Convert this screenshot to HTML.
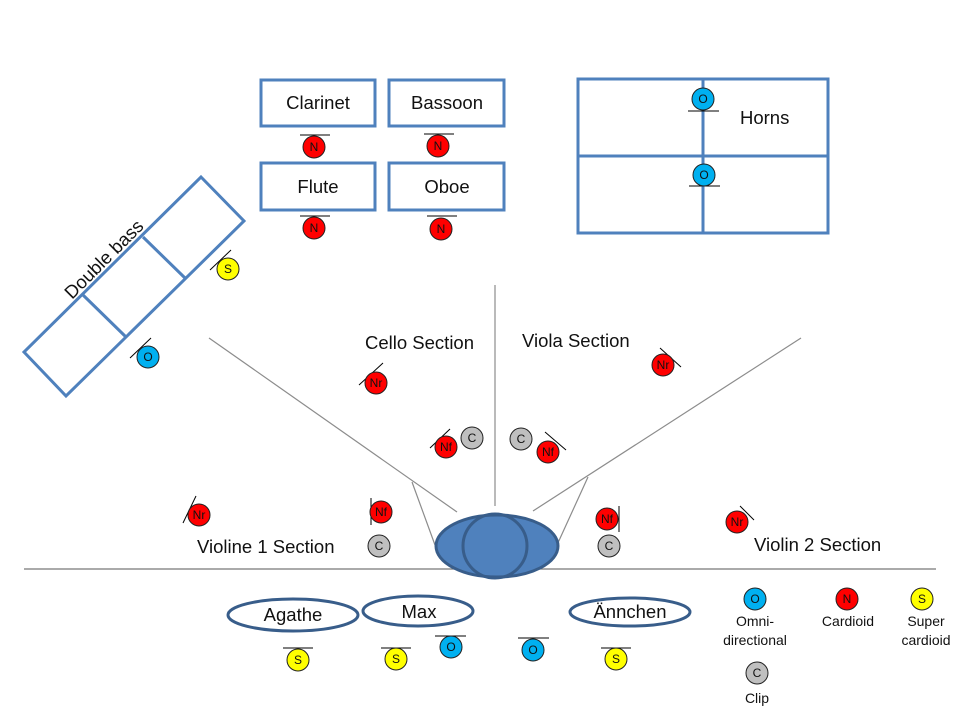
<!DOCTYPE html>
<html><head><meta charset="utf-8"><style>
body{margin:0;background:#fff}
svg{display:block}
text{font-family:"Liberation Sans",sans-serif;fill:#111}
.b{fill:none;stroke:#4f81bd;stroke-width:3}
.m{stroke:#222;stroke-width:1}
.l{stroke:#000;stroke-width:1}
.g{stroke:#8c8c8c;stroke-width:1.2}
.t{font-size:18.5px}
.mt{font-size:12px;text-anchor:middle}
</style></head><body>
<svg width="960" height="720" viewBox="0 0 960 720">
<rect class="b" x="261" y="80" width="114" height="46"/>
<rect class="b" x="389" y="80" width="115" height="46"/>
<rect class="b" x="261" y="163" width="114" height="47"/>
<rect class="b" x="389" y="163" width="115" height="47"/>
<text class="t" x="318" y="109" text-anchor="middle">Clarinet</text>
<text class="t" x="447" y="109" text-anchor="middle">Bassoon</text>
<text class="t" x="318" y="193" text-anchor="middle">Flute</text>
<text class="t" x="447" y="193" text-anchor="middle">Oboe</text>
<rect class="b" x="578" y="79" width="250" height="154"/>
<line class="b" x1="578" y1="156" x2="828" y2="156"/>
<line class="b" x1="703" y1="79" x2="703" y2="233"/>
<text class="t" x="740" y="124">Horns</text>
<polygon class="b" points="201,177 244,221 66,396 24,352"/>
<line class="b" x1="83" y1="295" x2="126" y2="337"/>
<line class="b" x1="143" y1="237" x2="185" y2="278"/>
<text class="t" x="0" y="0" transform="translate(72,300) rotate(-45)">Double bass</text>
<line class="g" x1="209" y1="338" x2="457" y2="512"/>
<line class="g" x1="495" y1="285" x2="495" y2="506"/>
<line class="g" x1="801" y1="338" x2="533" y2="511"/>
<line class="g" x1="412" y1="482" x2="435" y2="545"/>
<line class="g" x1="588" y1="477" x2="557" y2="545"/>
<line x1="24" y1="569" x2="936" y2="569" stroke="#777" stroke-width="1.2"/>
<ellipse cx="497" cy="546" rx="61" ry="31" fill="#4f81bd" stroke="#385d8a" stroke-width="3"/>
<circle cx="495" cy="546" r="32" fill="none" stroke="#385d8a" stroke-width="3"/>
<text class="t" x="365" y="349">Cello Section</text>
<text class="t" x="522" y="347">Viola Section</text>
<text class="t" x="197" y="553">Violine 1 Section</text>
<text class="t" x="754" y="551">Violin 2 Section</text>
<ellipse cx="293" cy="615" rx="65" ry="16" fill="none" stroke="#385d8a" stroke-width="3"/>
<ellipse cx="418" cy="611" rx="55" ry="15" fill="none" stroke="#385d8a" stroke-width="3"/>
<ellipse cx="630" cy="612" rx="60" ry="14" fill="none" stroke="#385d8a" stroke-width="3"/>
<text class="t" x="293" y="621" text-anchor="middle">Agathe</text>
<text class="t" x="419" y="618" text-anchor="middle">Max</text>
<text class="t" x="630" y="618" text-anchor="middle">Ännchen</text>
<g class="l">
<line x1="300" y1="135" x2="330" y2="135"/>
<line x1="424" y1="134" x2="454" y2="134"/>
<line x1="300" y1="216" x2="330" y2="216"/>
<line x1="427" y1="216" x2="457" y2="216"/>
<line x1="688" y1="111" x2="719" y2="111"/>
<line x1="689" y1="186" x2="720" y2="186"/>
<line x1="210" y1="270" x2="231" y2="250"/>
<line x1="130" y1="358" x2="151" y2="338"/>
<line x1="359" y1="385" x2="383" y2="363"/>
<line x1="430" y1="448" x2="450" y2="429"/>
<line x1="545" y1="432" x2="566" y2="450"/>
<line x1="660" y1="348" x2="681" y2="367"/>
<line x1="183" y1="523" x2="196" y2="496"/>
<line x1="371" y1="498" x2="371" y2="525"/>
<line x1="619" y1="506" x2="619" y2="532"/>
<line x1="740" y1="506" x2="754" y2="520"/>
<line x1="283" y1="648" x2="313" y2="648"/>
<line x1="381" y1="648" x2="411" y2="648"/>
<line x1="435" y1="636" x2="466" y2="636"/>
<line x1="518" y1="638" x2="549" y2="638"/>
<line x1="601" y1="648" x2="631" y2="648"/>
</g>
<g class="m">
<circle cx="314" cy="147" r="11" fill="#f00"/>
<circle cx="438" cy="146" r="11" fill="#f00"/>
<circle cx="314" cy="228" r="11" fill="#f00"/>
<circle cx="441" cy="229" r="11" fill="#f00"/>
<circle cx="703" cy="99" r="11" fill="#00b0f0"/>
<circle cx="704" cy="175" r="11" fill="#00b0f0"/>
<circle cx="228" cy="269" r="11" fill="#ff0"/>
<circle cx="148" cy="357" r="11" fill="#00b0f0"/>
<circle cx="376" cy="383" r="11" fill="#f00"/>
<circle cx="446" cy="447" r="11" fill="#f00"/>
<circle cx="472" cy="438" r="11" fill="#bfbfbf"/>
<circle cx="521" cy="439" r="11" fill="#bfbfbf"/>
<circle cx="548" cy="452" r="11" fill="#f00"/>
<circle cx="663" cy="365" r="11" fill="#f00"/>
<circle cx="199" cy="515" r="11" fill="#f00"/>
<circle cx="381" cy="512" r="11" fill="#f00"/>
<circle cx="379" cy="546" r="11" fill="#bfbfbf"/>
<circle cx="607" cy="519" r="11" fill="#f00"/>
<circle cx="609" cy="546" r="11" fill="#bfbfbf"/>
<circle cx="737" cy="522" r="11" fill="#f00"/>
<circle cx="298" cy="660" r="11" fill="#ff0"/>
<circle cx="396" cy="659" r="11" fill="#ff0"/>
<circle cx="451" cy="647" r="11" fill="#00b0f0"/>
<circle cx="533" cy="650" r="11" fill="#00b0f0"/>
<circle cx="616" cy="659" r="11" fill="#ff0"/>
<circle cx="755" cy="599" r="11" fill="#00b0f0"/>
<circle cx="847" cy="599" r="11" fill="#f00"/>
<circle cx="922" cy="599" r="11" fill="#ff0"/>
<circle cx="757" cy="673" r="11" fill="#bfbfbf"/>
</g>
<g class="mt">
<text x="314" y="151">N</text><text x="438" y="150">N</text>
<text x="314" y="232">N</text><text x="441" y="233">N</text>
<text x="703" y="103">O</text><text x="704" y="179">O</text>
<text x="228" y="273">S</text><text x="148" y="361">O</text>
<text x="376" y="387">Nr</text><text x="446" y="451">Nf</text>
<text x="472" y="442">C</text><text x="521" y="443">C</text>
<text x="548" y="456">Nf</text><text x="663" y="369">Nr</text>
<text x="199" y="519">Nr</text><text x="381" y="516">Nf</text>
<text x="379" y="550">C</text><text x="607" y="523">Nf</text>
<text x="609" y="550">C</text><text x="737" y="526">Nr</text>
<text x="298" y="664">S</text><text x="396" y="663">S</text>
<text x="451" y="651">O</text><text x="533" y="654">O</text>
<text x="616" y="663">S</text>
<text x="755" y="603">O</text><text x="847" y="603">N</text>
<text x="922" y="603">S</text><text x="757" y="677">C</text>
</g>
<g style="font-size:14px" text-anchor="middle">
<text x="755" y="626">Omni-</text>
<text x="755" y="645">directional</text>
<text x="848" y="626">Cardioid</text>
<text x="926" y="626">Super</text>
<text x="926" y="645">cardioid</text>
<text x="757" y="703">Clip</text>
</g>
</svg>
</body></html>
